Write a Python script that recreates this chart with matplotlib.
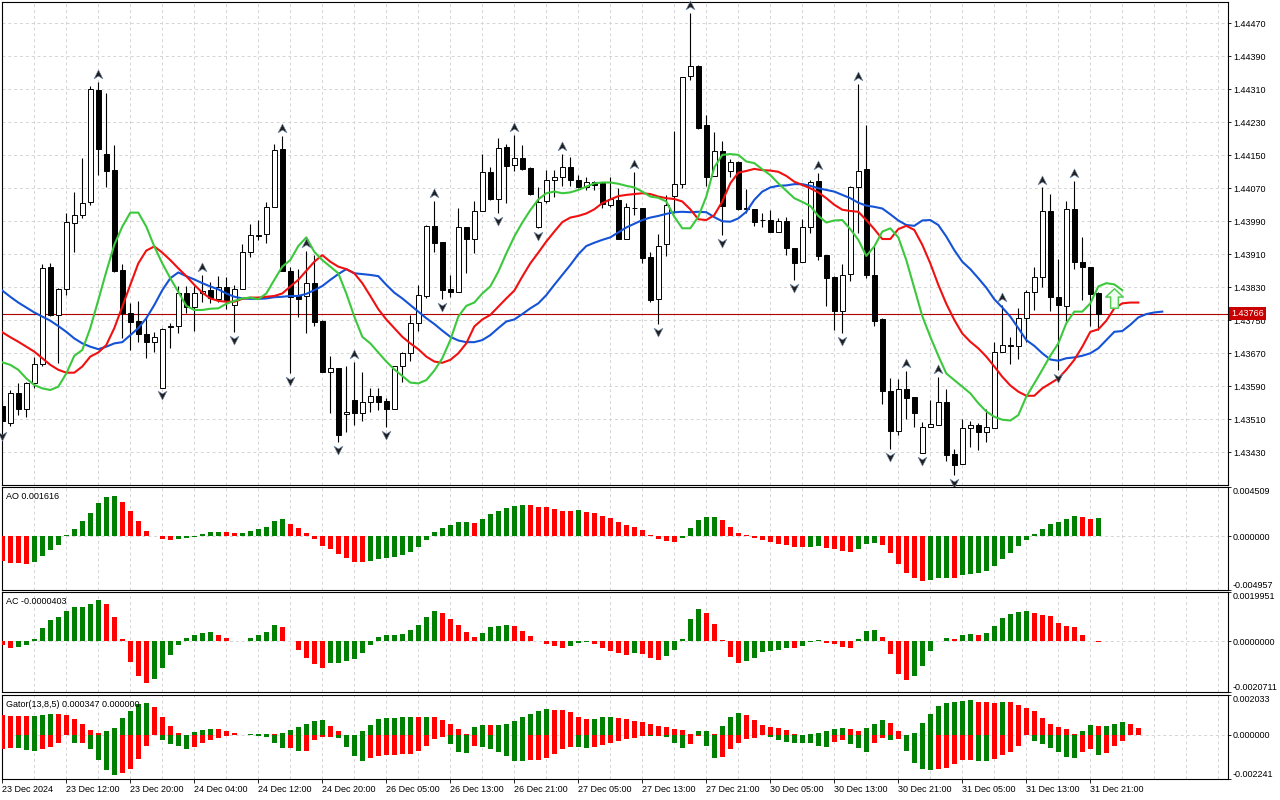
import numpy as np
import matplotlib
matplotlib.use('Agg')
import matplotlib.pyplot as plt
from matplotlib.path import Path
from matplotlib.transforms import offset_copy, blended_transform_factory

plt.rcParams['font.family'] = ['Liberation Sans', 'DejaVu Sans']

# H1 candles, 23 Dec 2024 - 31 Dec 2024
opens = [
    1.43542, 1.43502, 1.43573, 1.43534, 1.43597, 1.43643, 1.43879, 1.43762, 1.43825, 1.43987,
    1.44005, 1.44036, 1.44308, 1.44153, 1.44114, 1.43872, 1.43767, 1.43748, 1.43716, 1.43698,
    1.43587, 1.43734, 1.43735, 1.43816, 1.43782, 1.43816, 1.43823, 1.43801, 1.43830, 1.43786,
    1.43825, 1.43915, 1.43955, 1.43959, 1.44025, 1.44165, 1.43870, 1.43809, 1.43809, 1.43840,
    1.43748, 1.43625, 1.43634, 1.43522, 1.43557, 1.43525, 1.43553, 1.43567, 1.43554, 1.43534,
    1.43638, 1.43670, 1.43744, 1.43810, 1.43979, 1.43940, 1.43826, 1.43819, 1.43976, 1.43946,
    1.44015, 1.44109, 1.44043, 1.44171, 1.44127, 1.44143, 1.44119, 1.43975, 1.44038, 1.44089,
    1.44097, 1.44121, 1.44090, 1.44072, 1.44085, 1.44084, 1.44030, 1.44042, 1.43948, 1.44023,
    1.44022, 1.43904, 1.43801, 1.43934, 1.44052, 1.44080, 1.44341, 1.44367, 1.44224, 1.44100,
    1.44160, 1.44111, 1.44133, 1.44020, 1.44020, 1.43993, 1.43993, 1.43965, 1.43991, 1.43925,
    1.43892, 1.43975, 1.44088, 1.43908, 1.43856, 1.43773, 1.43862, 1.44074, 1.44116, 1.43860,
    1.43752, 1.43579, 1.43482, 1.43583, 1.43563, 1.43429, 1.43492, 1.43496, 1.43551, 1.43426,
    1.43402, 1.43488, 1.43496, 1.43478, 1.43488, 1.43674, 1.43688, 1.43688, 1.43755, 1.43818,
    1.43854, 1.44014, 1.43806, 1.43785, 1.44019, 1.43892, 1.43880, 1.43816]
highs = [
    1.43557, 1.43581, 1.43599, 1.43601, 1.43660, 1.43886, 1.43888, 1.43828, 1.44009, 1.44061,
    1.44144, 1.44318, 1.44328, 1.44300, 1.44174, 1.43886, 1.43791, 1.43797, 1.43759, 1.43722,
    1.43731, 1.43743, 1.43832, 1.43833, 1.43833, 1.43859, 1.43843, 1.43857, 1.43856, 1.43836,
    1.43935, 1.43984, 1.43993, 1.44037, 1.44177, 1.44197, 1.43880, 1.43874, 1.43919, 1.43908,
    1.43751, 1.43664, 1.43634, 1.43640, 1.43650, 1.43625, 1.43587, 1.43585, 1.43561, 1.43638,
    1.43674, 1.43763, 1.43836, 1.43981, 1.44040, 1.43940, 1.43860, 1.44022, 1.43976, 1.44038,
    1.44153, 1.44122, 1.44191, 1.44177, 1.44199, 1.44175, 1.44121, 1.44072, 1.44114, 1.44114,
    1.44153, 1.44145, 1.44102, 1.44098, 1.44088, 1.44086, 1.44097, 1.44070, 1.44034, 1.44110,
    1.44022, 1.43916, 1.43959, 1.44054, 1.44209, 1.44339, 1.44494, 1.44369, 1.44248, 1.44206,
    1.44185, 1.44140, 1.44135, 1.44068, 1.44020, 1.44009, 1.44017, 1.43997, 1.44000, 1.43925,
    1.43995, 1.44090, 1.44106, 1.43908, 1.43857, 1.43886, 1.44076, 1.44323, 1.44224, 1.43930,
    1.43755, 1.43609, 1.43607, 1.43628, 1.43563, 1.43504, 1.43557, 1.43613, 1.43583, 1.43437,
    1.43510, 1.43507, 1.43500, 1.43534, 1.43698, 1.43787, 1.43709, 1.43779, 1.43823, 1.43880,
    1.44072, 1.44056, 1.43898, 1.44039, 1.44088, 1.43951, 1.43880, 1.43819]
lows = [
    1.43489, 1.43494, 1.43521, 1.43515, 1.43585, 1.43640, 1.43761, 1.43646, 1.43811, 1.43916,
    1.43997, 1.44030, 1.44102, 1.44074, 1.43868, 1.43706, 1.43678, 1.43698, 1.43659, 1.43674,
    1.43587, 1.43682, 1.43720, 1.43767, 1.43725, 1.43795, 1.43791, 1.43795, 1.43777, 1.43722,
    1.43825, 1.43904, 1.43945, 1.43938, 1.44025, 1.43870, 1.43622, 1.43759, 1.43719, 1.43736,
    1.43625, 1.43526, 1.43456, 1.43480, 1.43496, 1.43507, 1.43528, 1.43533, 1.43492, 1.43534,
    1.43601, 1.43651, 1.43725, 1.43803, 1.43916, 1.43801, 1.43807, 1.43819, 1.43865, 1.43912,
    1.44015, 1.44042, 1.44009, 1.44034, 1.44113, 1.44114, 1.44054, 1.43973, 1.44035, 1.44050,
    1.44076, 1.44076, 1.44070, 1.44066, 1.44066, 1.44022, 1.44025, 1.43948, 1.43948, 1.44005,
    1.43890, 1.43795, 1.43741, 1.43906, 1.44009, 1.44070, 1.44333, 1.44214, 1.44076, 1.44100,
    1.43957, 1.44098, 1.44017, 1.44009, 1.43979, 1.43977, 1.43963, 1.43963, 1.43908, 1.43848,
    1.43892, 1.43961, 1.43896, 1.43785, 1.43727, 1.43720, 1.43846, 1.43961, 1.43852, 1.43736,
    1.43547, 1.43437, 1.43472, 1.43510, 1.43492, 1.43428, 1.43492, 1.43496, 1.43410, 1.43375,
    1.43402, 1.43444, 1.43436, 1.43456, 1.43488, 1.43672, 1.43643, 1.43655, 1.43698, 1.43775,
    1.43830, 1.43773, 1.43630, 1.43749, 1.43874, 1.43799, 1.43736, 1.43727]
closes = [
    1.43506, 1.43573, 1.43534, 1.43597, 1.43643, 1.43876, 1.43762, 1.43825, 1.43988, 1.44005,
    1.44034, 1.44310, 1.44166, 1.44113, 1.43870, 1.43767, 1.43747, 1.43716, 1.43698, 1.43710,
    1.43728, 1.43736, 1.43816, 1.43783, 1.43816, 1.43822, 1.43803, 1.43830, 1.43799, 1.43825,
    1.43915, 1.43956, 1.43957, 1.44024, 1.44163, 1.43870, 1.43807, 1.43802, 1.43840, 1.43747,
    1.43625, 1.43634, 1.43472, 1.43528, 1.43525, 1.43551, 1.43567, 1.43553, 1.43534, 1.43638,
    1.43670, 1.43744, 1.43811, 1.43979, 1.43938, 1.43823, 1.43819, 1.43976, 1.43946, 1.44015,
    1.44109, 1.44044, 1.44167, 1.44125, 1.44143, 1.44117, 1.44056, 1.44036, 1.44089, 1.44097,
    1.44121, 1.44090, 1.44072, 1.44086, 1.44078, 1.44032, 1.44043, 1.43948, 1.44024, 1.44022,
    1.43902, 1.43799, 1.43931, 1.44030, 1.44080, 1.44339, 1.44367, 1.44217, 1.44098, 1.44160,
    1.44028, 1.44133, 1.44020, 1.44022, 1.43989, 1.43993, 1.43965, 1.43991, 1.43925, 1.43890,
    1.43975, 1.44086, 1.43906, 1.43853, 1.43773, 1.43860, 1.44072, 1.44113, 1.43860, 1.43749,
    1.43579, 1.43482, 1.43583, 1.43561, 1.43526, 1.43491, 1.43499, 1.43551, 1.43424, 1.43399,
    1.43488, 1.43496, 1.43478, 1.43491, 1.43674, 1.43690, 1.43689, 1.43755, 1.43818, 1.43854,
    1.44014, 1.43806, 1.43787, 1.44019, 1.43892, 1.43880, 1.43814, 1.43766]

# Alligator lines as drawn (already shifted forward: jaw 8, teeth 5, lips 3)
jaw = [
    1.43822, 1.43807, 1.43793, 1.43781, 1.43769, 1.43759, 1.43749, 1.43736, 1.43722, 1.43706,
    1.43694, 1.43686, 1.43680, 1.43686, 1.43694, 1.43697, 1.43714, 1.43731, 1.43755, 1.43787,
    1.43823, 1.43852, 1.43866, 1.43857, 1.43849, 1.43840, 1.43832, 1.43825, 1.43815, 1.43807,
    1.43803, 1.43802, 1.43802, 1.43803, 1.43806, 1.43807, 1.43809, 1.43809, 1.43814, 1.43823,
    1.43833, 1.43848, 1.43862, 1.43874, 1.43864, 1.43862, 1.43860, 1.43857, 1.43836, 1.43817,
    1.43803, 1.43787, 1.43771, 1.43755, 1.43741, 1.43725, 1.43710, 1.43701, 1.43697, 1.43697,
    1.43702, 1.43714, 1.43731, 1.43747, 1.43752, 1.43765, 1.43779, 1.43791, 1.43811, 1.43836,
    1.43860, 1.43884, 1.43910, 1.43930, 1.43938, 1.43945, 1.43951, 1.43963, 1.43975, 1.43984,
    1.43993, 1.43999, 1.44003, 1.44008, 1.44012, 1.44013, 1.44012, 1.44013, 1.44012, 1.44000,
    1.43990, 1.43989, 1.43997, 1.44013, 1.44042, 1.44062, 1.44072, 1.44076, 1.44077, 1.44080,
    1.44080, 1.44076, 1.44070, 1.44066, 1.44062, 1.44054, 1.44046, 1.44035, 1.44028, 1.44025,
    1.44021, 1.44007, 1.43992, 1.43981, 1.43979, 1.43992, 1.43993, 1.43981, 1.43953, 1.43920,
    1.43892, 1.43874, 1.43852, 1.43829, 1.43801, 1.43781, 1.43759, 1.43731, 1.43702, 1.43688,
    1.43670, 1.43655, 1.43652, 1.43658, 1.43660, 1.43664, 1.43670, 1.43682, 1.43702, 1.43722,
    1.43724, 1.43739, 1.43757, 1.43765, 1.43769, 1.43771]
teeth = [
    1.43721, 1.43709, 1.43698, 1.43686, 1.43674, 1.43658, 1.43642, 1.43630, 1.43623, 1.43623,
    1.43638, 1.43662, 1.43672, 1.43690, 1.43731, 1.43783, 1.43836, 1.43888, 1.43919, 1.43929,
    1.43914, 1.43896, 1.43876, 1.43857, 1.43836, 1.43817, 1.43803, 1.43797, 1.43795, 1.43795,
    1.43802, 1.43805, 1.43805, 1.43807, 1.43809, 1.43815, 1.43832, 1.43848, 1.43870, 1.43892,
    1.43908, 1.43892, 1.43880, 1.43874, 1.43864, 1.43840, 1.43809, 1.43777, 1.43752, 1.43731,
    1.43710, 1.43694, 1.43680, 1.43662, 1.43650, 1.43647, 1.43654, 1.43670, 1.43694, 1.43735,
    1.43752, 1.43763, 1.43783, 1.43803, 1.43822, 1.43856, 1.43888, 1.43914, 1.43941, 1.43965,
    1.43988, 1.43999, 1.44003, 1.44009, 1.44019, 1.44034, 1.44043, 1.44051, 1.44054, 1.44056,
    1.44058, 1.44056, 1.44050, 1.44046, 1.44044, 1.44038, 1.44019, 1.43995, 1.43993, 1.44005,
    1.44038, 1.44082, 1.44108, 1.44112, 1.44117, 1.44114, 1.44113, 1.44110, 1.44100, 1.44086,
    1.44078, 1.44070, 1.44060, 1.44046, 1.44030, 1.44018, 1.44015, 1.44013, 1.43993, 1.43971,
    1.43947, 1.43947, 1.43971, 1.43979, 1.43969, 1.43933, 1.43888, 1.43836, 1.43790, 1.43751,
    1.43718, 1.43698, 1.43682, 1.43662, 1.43638, 1.43613, 1.43592, 1.43577, 1.43567, 1.43567,
    1.43585, 1.43597, 1.43609, 1.43630, 1.43654, 1.43686, 1.43722, 1.43728, 1.43749, 1.43779,
    1.43791, 1.43793, 1.43793]
lips = [
    1.43648, 1.43642, 1.43630, 1.43609, 1.43593, 1.43585, 1.43581, 1.43589, 1.43621, 1.43664,
    1.43678, 1.43731, 1.43799, 1.43868, 1.43933, 1.43977, 1.44011, 1.44011, 1.43977, 1.43929,
    1.43888, 1.43852, 1.43819, 1.43785, 1.43775, 1.43775, 1.43778, 1.43779, 1.43790, 1.43797,
    1.43803, 1.43805, 1.43801, 1.43815, 1.43848, 1.43880, 1.43896, 1.43930, 1.43951, 1.43916,
    1.43896, 1.43880, 1.43864, 1.43815, 1.43759, 1.43710, 1.43694, 1.43672, 1.43650, 1.43631,
    1.43615, 1.43599, 1.43597, 1.43605, 1.43628, 1.43658, 1.43702, 1.43759, 1.43785, 1.43793,
    1.43815, 1.43832, 1.43868, 1.43912, 1.43953, 1.43987, 1.44017, 1.44043, 1.44058, 1.44062,
    1.44058, 1.44060, 1.44066, 1.44074, 1.44082, 1.44084, 1.44084, 1.44081, 1.44076, 1.44072,
    1.44062, 1.44050, 1.44047, 1.44038, 1.44001, 1.43973, 1.43973, 1.44001, 1.44050, 1.44121,
    1.44151, 1.44153, 1.44151, 1.44135, 1.44131, 1.44116, 1.44102, 1.44082, 1.44064, 1.44046,
    1.44037, 1.44027, 1.44003, 1.43987, 1.43992, 1.43993, 1.43971, 1.43945, 1.43906, 1.43929,
    1.43965, 1.43973, 1.43951, 1.43896, 1.43828, 1.43760, 1.43710, 1.43664, 1.43621, 1.43605,
    1.43589, 1.43573, 1.43549, 1.43529, 1.43516, 1.43509, 1.43507, 1.43520, 1.43565, 1.43597,
    1.43630, 1.43664, 1.43694, 1.43743, 1.43771, 1.43771, 1.43791, 1.43832, 1.43840, 1.43837,
    1.43823]

ao = [
    -0.00231, -0.00246, -0.00246, -0.00259, -0.00240, -0.00185, -0.00129, -0.00083, 0.00006, 0.00068,
    0.00142, 0.00216, 0.00308, 0.00360, 0.00370, 0.00317, 0.00234, 0.00142, 0.00049, 0.00003,
    -0.00031, -0.00032, -0.00025, -0.00015, -0.00009, 0.00018, 0.00040, 0.00041, 0.00040, 0.00028,
    0.00031, 0.00049, 0.00068, 0.00086, 0.00142, 0.00160, 0.00111, 0.00077, 0.00031, -0.00025,
    -0.00089, -0.00117, -0.00166, -0.00203, -0.00240, -0.00241, -0.00228, -0.00209, -0.00200, -0.00191,
    -0.00172, -0.00145, -0.00102, -0.00034, 0.00037, 0.00074, 0.00102, 0.00129, 0.00130, 0.00120,
    0.00160, 0.00203, 0.00234, 0.00259, 0.00277, 0.00286, 0.00283, 0.00268, 0.00267, 0.00249,
    0.00234, 0.00233, 0.00235, 0.00219, 0.00213, 0.00185, 0.00166, 0.00129, 0.00102, 0.00083,
    0.00055, 0.00009, -0.00031, -0.00043, -0.00052, -0.00015, 0.00074, 0.00148, 0.00176, 0.00177,
    0.00148, 0.00083, 0.00028, 0.00009, -0.00015, -0.00034, -0.00052, -0.00074, -0.00083, -0.00102,
    -0.00103, -0.00101, -0.00092, -0.00111, -0.00120, -0.00136, -0.00145, -0.00117, -0.00071, -0.00062,
    -0.00083, -0.00154, -0.00256, -0.00339, -0.00385, -0.00413, -0.00403, -0.00385, -0.00384, -0.00386,
    -0.00357, -0.00348, -0.00339, -0.00320, -0.00274, -0.00209, -0.00154, -0.00089, -0.00034, 0.00018,
    0.00068, 0.00111, 0.00129, 0.00157, 0.00185, 0.00176, 0.00160, 0.001616]
ac = [
    -0.00015, -0.00025, -0.00024, -0.00016, 0.00008, 0.00053, 0.00085, 0.00098, 0.00122, 0.00138,
    0.00141, 0.00150, 0.00167, 0.00150, 0.00098, 0.00008, -0.00085, -0.00142, -0.00171, -0.00154,
    -0.00110, -0.00057, -0.00016, 0.00012, 0.00024, 0.00033, 0.00037, 0.00024, 0.00012, 0.00002,
    0.00001, 0.00012, 0.00024, 0.00037, 0.00065, 0.00057, 0.00001, -0.00037, -0.00069, -0.00094,
    -0.00110, -0.00089, -0.00088, -0.00081, -0.00073, -0.00049, -0.00016, 0.00016, 0.00024, 0.00025,
    0.00028, 0.00045, 0.00065, 0.00098, 0.00122, 0.00114, 0.00089, 0.00065, 0.00037, 0.00016,
    0.00033, 0.00057, 0.00061, 0.00065, 0.00061, 0.00041, 0.00020, 0.00001, -0.00012, -0.00020,
    -0.00028, -0.00020, -0.00008, -0.00003, -0.00012, -0.00028, -0.00041, -0.00049, -0.00057, -0.00049,
    -0.00050, -0.00069, -0.00077, -0.00061, -0.00037, 0.00008, 0.00089, 0.00130, 0.00114, 0.00069,
    0.00004, -0.00065, -0.00089, -0.00081, -0.00069, -0.00045, -0.00041, -0.00037, -0.00028, -0.00029,
    -0.00020, -0.00002, 0.00004, -0.00008, -0.00011, -0.00024, -0.00025, 0.00008, 0.00041, 0.00045,
    0.00016, -0.00053, -0.00134, -0.00159, -0.00142, -0.00102, -0.00041, 0.00001, 0.00012, 0.00011,
    0.00024, 0.00028, 0.00024, 0.00033, 0.00061, 0.00093, 0.00110, 0.00118, 0.00122, 0.00114,
    0.00106, 0.00102, 0.00073, 0.00061, 0.00057, 0.00024, 0.00001, -0.0000403]
gator_up = [
    0.00101, 0.00098, 0.00095, 0.00095, 0.00096, 0.00101, 0.00107, 0.00106, 0.00099, 0.00083,
    0.00056, 0.00024, 0.00008, 0.00020, 0.00037, 0.00086, 0.00122, 0.00157, 0.00164, 0.00142,
    0.00091, 0.00044, 0.00010, 0.00000, 0.00013, 0.00023, 0.00029, 0.00028, 0.00020, 0.00012,
    0.00001, 0.00003, 0.00003, 0.00004, 0.00003, 0.00008, 0.00023, 0.00039, 0.00056, 0.00069,
    0.00075, 0.00044, 0.00018, 0.00000, 0.00000, 0.00022, 0.00051, 0.00080, 0.00084, 0.00086,
    0.00093, 0.00093, 0.00091, 0.00093, 0.00091, 0.00078, 0.00056, 0.00031, 0.00003, 0.00038,
    0.00050, 0.00049, 0.00052, 0.00056, 0.00070, 0.00091, 0.00109, 0.00123, 0.00130, 0.00129,
    0.00128, 0.00115, 0.00093, 0.00079, 0.00081, 0.00089, 0.00092, 0.00088, 0.00079, 0.00072,
    0.00065, 0.00057, 0.00047, 0.00038, 0.00032, 0.00025, 0.00007, 0.00018, 0.00019, 0.00005,
    0.00048, 0.00093, 0.00111, 0.00099, 0.00075, 0.00052, 0.00041, 0.00034, 0.00023, 0.00006,
    0.00002, 0.00006, 0.00010, 0.00020, 0.00032, 0.00036, 0.00031, 0.00022, 0.00035, 0.00054,
    0.00074, 0.00060, 0.00021, 0.00002, 0.00010, 0.00059, 0.00105, 0.00145, 0.00163, 0.00169,
    0.00174, 0.00176, 0.00170, 0.00167, 0.00163, 0.00168, 0.00167, 0.00154, 0.00135, 0.00121,
    0.00085, 0.00058, 0.00043, 0.00028, 0.00006, 0.00022, 0.00052, 0.00046, 0.00047, 0.00057,
    0.00067, 0.00054, 0.000347]
gator_down = [
    -0.00073, -0.00067, -0.00068, -0.00077, -0.00081, -0.00073, -0.00061, -0.00041, -0.00002, -0.00041,
    -0.00040, -0.00069, -0.00127, -0.00178, -0.00202, -0.00194, -0.00175, -0.00123, -0.00058, -0.00000,
    -0.00026, -0.00044, -0.00057, -0.00072, -0.00061, -0.00042, -0.00025, -0.00018, -0.00005, -0.00002,
    -0.00001, -0.00000, -0.00004, -0.00008, -0.00039, -0.00065, -0.00064, -0.00082, -0.00081, -0.00024,
    -0.00012, -0.00012, -0.00016, -0.00059, -0.00105, -0.00130, -0.00115, -0.00105, -0.00102, -0.00100,
    -0.00095, -0.00095, -0.00083, -0.00057, -0.00022, -0.00011, -0.00048, -0.00089, -0.00091, -0.00058,
    -0.00063, -0.00069, -0.00085, -0.00109, -0.00131, -0.00131, -0.00129, -0.00129, -0.00117, -0.00097,
    -0.00070, -0.00061, -0.00063, -0.00065, -0.00063, -0.00050, -0.00041, -0.00030, -0.00022, -0.00016,
    -0.00004, -0.00006, -0.00003, -0.00008, -0.00043, -0.00066, -0.00046, -0.00006, -0.00057, -0.00116,
    -0.00113, -0.00071, -0.00043, -0.00023, -0.00014, -0.00002, -0.00011, -0.00028, -0.00036, -0.00040,
    -0.00041, -0.00043, -0.00057, -0.00059, -0.00038, -0.00025, -0.00044, -0.00068, -0.00087, -0.00042,
    -0.00018, -0.00026, -0.00020, -0.00083, -0.00141, -0.00173, -0.00178, -0.00172, -0.00169, -0.00146,
    -0.00129, -0.00125, -0.00133, -0.00133, -0.00122, -0.00104, -0.00085, -0.00057, -0.00002, -0.00030,
    -0.00045, -0.00067, -0.00085, -0.00113, -0.00117, -0.00085, -0.00069, -0.00104, -0.00091, -0.00058,
    -0.00032]

fractal_up = [12, 25, 35, 38, 44, 54, 64, 70, 79, 86, 102, 107, 113, 117, 125, 130, 134]
fractal_down = [0, 20, 29, 36, 42, 48, 55, 62, 67, 82, 90, 99, 105, 111, 115, 119, 132]

time_labels = ['23 Dec 2024', '23 Dec 12:00', '23 Dec 20:00', '24 Dec 04:00', '24 Dec 12:00',
               '24 Dec 20:00', '26 Dec 05:00', '26 Dec 13:00', '26 Dec 21:00', '27 Dec 05:00',
               '27 Dec 13:00', '27 Dec 21:00', '30 Dec 05:00', '30 Dec 13:00', '30 Dec 21:00',
               '31 Dec 05:00', '31 Dec 13:00', '31 Dec 21:00']
price_ticks = [1.44470, 1.44390, 1.44310, 1.44230, 1.44150, 1.44070, 1.43990,
               1.43910, 1.43830, 1.43750, 1.43670, 1.43590, 1.43510, 1.43430]
last_price = 1.43766
signal_bar, signal_price = 139, 1.43805

GREEN, RED = '#008000', '#ff0000'
GRID = dict(color='#d4d4d4', ls=(0, (3, 3)), lw=0.7)
FS = 6.5


def trend_colors(vals, first, magnitude=False):
    out, cur = [], first
    for k, v in enumerate(vals):
        if k:
            a, b = (abs(v), abs(vals[k - 1])) if magnitude else (v, vals[k - 1])
            if a > b:
                cur = GREEN
            elif a < b:
                cur = RED
        out.append(cur)
    return out


W, H = 1280, 800
def frame(top, bottom):
    return [2.3 / W, 1 - bottom / H, (1227.5 - 2.3) / W, (bottom - top) / H]

fig = plt.figure(figsize=(12.8, 8), dpi=100)
ax = fig.add_axes(frame(2, 485))
ax_ao = fig.add_axes(frame(487, 590))
ax_ac = fig.add_axes(frame(592.3, 692.3))
ax_gt = fig.add_axes(frame(695, 779))

for a in (ax, ax_ao, ax_ac, ax_gt):
    a.set_xlim(0, 153.15)
    a.set_xticks([])
    a.set_xticks(np.arange(4, 154, 4), minor=True)
    a.tick_params(axis='x', which='minor', length=0)
    a.grid(axis='x', which='both', **GRID)
    a.set_axisbelow(True)
    for s in a.spines.values():
        s.set_linewidth(0.8)
        s.set_color('black')

# main chart: candles
o, h, l, c = map(np.array, (opens, highs, lows, closes))
x = np.arange(len(c))
ax.vlines(x, l, h, color='black', lw=0.8, zorder=2)
body = np.maximum(np.abs(c - o), 0.000012)
ax.bar(x, body, bottom=np.minimum(o, c), width=0.56,
       color=np.where(c >= o, 'white', 'black'), edgecolor='black', linewidth=0.7, zorder=3)

ax.axhline(last_price, color='#b00000', lw=0.8, zorder=1.5)

ax.plot(np.arange(len(jaw)), jaw, color='#1452d6', lw=1.5, zorder=4)
ax.plot(np.arange(len(teeth)), teeth, color='#f01010', lw=1.5, zorder=4)
ax.plot(np.arange(len(lips)), lips, color='#3cc83c', lw=1.5, zorder=4)

# fractal arrowheads
head = Path([(0, 1), (0.8, -0.6), (0, -0.1), (-0.8, -0.6), (0, 1)],
            [Path.MOVETO, Path.LINETO, Path.LINETO, Path.LINETO, Path.CLOSEPOLY])
head_dn = Path(head.vertices * [1, -1], head.codes)
ax.plot(fractal_up, h[fractal_up], ls='none', marker=head, ms=8, mfc='#202020', mec='#6d88a8',
        mew=0.4, transform=offset_copy(ax.transData, fig=fig, y=5, units='points'),
        clip_on=False, zorder=6)
ax.plot(fractal_down, l[fractal_down], ls='none', marker=head_dn, ms=8, mfc='#202020', mec='#6d88a8',
        mew=0.4, transform=offset_copy(ax.transData, fig=fig, y=-5, units='points'),
        clip_on=False, zorder=6)

# green signal arrow
block = Path([(0, 1), (0.9, 0.15), (0.4, 0.15), (0.4, -1), (-0.4, -1), (-0.4, 0.15), (-0.9, 0.15), (0, 1)],
             [Path.MOVETO] + [Path.LINETO] * 6 + [Path.CLOSEPOLY])
ax.plot([signal_bar], [signal_price], ls='none', marker=block, ms=14, mfc='#f0fff0', mec='#55cc55',
        mew=1.1, zorder=6)

ax.set_ylim(1.433507, 1.445216)
ax.yaxis.tick_right()
ax.set_yticks(price_ticks)
ax.set_yticklabels([f'{p:.5f}' for p in price_ticks])
ax.tick_params(axis='y', direction='out', length=2.5, width=0.6, pad=1.5, labelsize=FS)
ax.grid(axis='y', **GRID)

trans = blended_transform_factory(ax.transAxes, ax.transData)
ax.text(1.0, last_price, f'{last_price:.5f}', transform=offset_copy(trans, fig=fig, x=2.6, units='points'),
        ha='left', va='center', color='white', fontsize=FS, zorder=10,
        bbox=dict(boxstyle='square,pad=0.2', fc='#c80000', ec='none'))


# oscillators
def osc_axis(a, lo, hi, labels, title, title_y):
    a.set_ylim(lo, hi)
    a.yaxis.tick_right()
    a.set_yticks([lo, 0, hi])
    a.set_yticklabels(labels)
    tl = a.get_yticklabels()
    tl[0].set_va('bottom')
    tl[2].set_va('top')
    a.tick_params(axis='y', direction='out', length=2.5, width=0.6, pad=1.5, labelsize=FS)
    a.axhline(0, zorder=0, **GRID)
    a.text(0.003, title_y, title, transform=a.transAxes, fontsize=FS, va='center', ha='left', zorder=10)

ax_ao.bar(np.arange(len(ao)), ao, width=0.55, color=trend_colors(ao, RED), linewidth=0, zorder=3)
osc_axis(ax_ao, -0.004957, 0.004509, ['-0.004957', '0.000000', '0.004509'],
         f'AO {ao[-1]:.6f}', 0.906)

ax_ac.bar(np.arange(len(ac)), ac, width=0.55, color=trend_colors(ac, RED), linewidth=0, zorder=3)
osc_axis(ax_ac, -0.0020711, 0.0019951, ['-0.0020711', '0.0000000', '0.0019951'],
         f'AC {ac[-1]:.7f}', 0.906)

ax_gt.bar(np.arange(len(gator_up)), gator_up, width=0.55, color=trend_colors(gator_up, RED),
          linewidth=0, zorder=3)
ax_gt.bar(np.arange(len(gator_down)), gator_down, width=0.55,
          color=trend_colors(gator_down, RED, magnitude=True), linewidth=0, zorder=3)
osc_axis(ax_gt, -0.002241, 0.002033, ['-0.002241', '0.000000', '0.002033'],
         f'Gator(13,8,5) {gator_up[-1]:.6f} {0:.6f}', 0.889)

ax_gt.set_xticks(np.arange(0, 8 * len(time_labels), 8))
ax_gt.set_xticklabels(time_labels, ha='left')
ax_gt.tick_params(axis='x', which='major', direction='out', length=3, width=0.6, pad=1.5, labelsize=FS)

fig.savefig('out.png', dpi=100, facecolor='white')
